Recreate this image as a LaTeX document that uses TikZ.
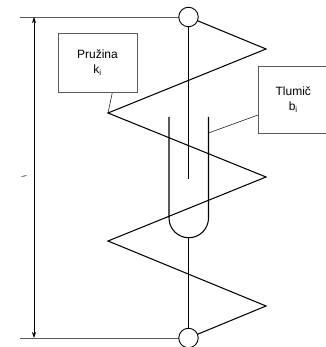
\documentclass[tikz,border=0pt]{standalone}
\usepackage{fontspec}
\setmainfont{Liberation Sans}
\usetikzlibrary{arrows.meta,positioning,calc}
\definecolor{Ink}{RGB}{0,0,0}
\definecolor{Guide}{RGB}{90,90,90}
\tikzset{
  x=1pt,y=-1pt,
  tjoint/.style={circle,draw=Ink,fill=white,line width=.9pt,minimum size=19.5pt,inner sep=0pt},
  tlabel/.style={rectangle,draw=Guide,fill=white,line width=.5pt,font=\fontsize{12}{15}\selectfont,
                 align=center,inner sep=0pt},
  tspring/.style={Ink,line width=1.05pt,line join=miter},
  tleader/.style={Ink,line width=.5pt},
  tguide/.style={Guide,line width=.9pt},
  tdim/.style={Ink,line width=.7pt,{Stealth[length=6pt,width=4pt]}-{Stealth[length=6pt,width=4pt]}},
}
\begin{document}
\begin{tikzpicture}
  \useasboundingbox (0,0) rectangle (325,347);
  % end joints
  \coordinate (topc) at (188.5,17);
  \coordinate (botc) at (188.5,338);
  % guide lines and dimension
  \coordinate (gt) at (20,17);
  \coordinate (gb) at (20,338);
  \draw[tguide] (gt) -- (topc);
  \draw[tguide] (gb) -- (botc);
  \coordinate (dt) at (34,17);
  \coordinate (db) at (34,338);
  \draw[tdim] (dt) -- (db);
  \node[font=\fontsize{5}{6}\selectfont,rotate=90] (lilab) at (24,176) {l\textsubscript{i}};
  % spring
  \coordinate (s1) at (266,49);
  \coordinate (s2) at (108,113);
  \coordinate (s3) at (266,177);
  \coordinate (s4) at (108,241);
  \coordinate (s5) at (266,306);
  \draw[tspring] (topc) -- (s1) -- (s2) -- (s3) -- (s4) -- (s5) -- (botc);
  % damper
  \coordinate (dl) at (169,117);
  \coordinate (dr) at (208.5,117);
  \coordinate (rodend) at (188.5,179);
  \draw[tspring] (dl) -- (169,218) arc[start angle=180,end angle=0,radius=19.75] -- (dr);
  \draw[tspring] (topc) -- (rodend);
  \coordinate (cupb) at (188.5,238);
  \draw[tspring] (cupb) -- (botc);
  \node[tjoint] (top) at (topc) {};
  \node[tjoint] (bot) at (botc) {};
  % labels
  \node[tlabel,minimum width=79pt,minimum height=59.5pt] (pruz) at (97.5,63) {Pružina\\k\textsubscript{i}};
  \node[tlabel,minimum width=70pt,minimum height=67pt,anchor=west] (tlum) at (258,100) {Tlumič\\b\textsubscript{i}};
  \draw[tleader] (pruz.south east) ++(-25,0) -- (s2);
  \draw[tleader] (tlum.west) ++(0,15) -- (dr |- 0,133);
\end{tikzpicture}
\end{document}
